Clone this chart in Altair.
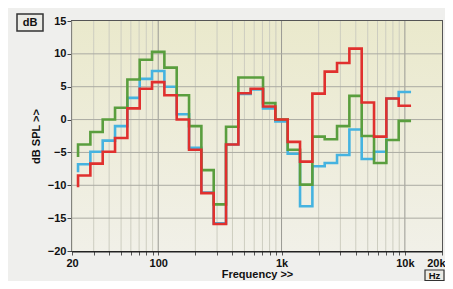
import math
import altair as alt
import pandas as pd

# 1/3-octave band centres (Hz)
bands = [25, 31.5, 40, 50, 63, 80, 100, 125, 160, 200, 250, 315, 400, 500,
         630, 800, 1000, 1250, 1600, 2000, 2500, 3150, 4000, 5000, 6300, 8000, 10000]

green = [-3.8, -1.9, 0.0, 1.8, 6.1, 9.1, 10.3, 7.9, 3.7, -1.0, -7.7, -12.9, -1.1, 6.4,
         6.4, 2.5, 0.0, -4.6, -9.9, -2.6, -3.0, -1.0, 3.6, -2.5, -6.6, -3.1, -0.2]
blue = [-6.8, -4.9, -3.2, -1.0, 3.3, 6.2, 7.4, 5.0, 0.8, -4.3, -11.1, -15.8, -3.8, 3.9,
        4.6, 1.7, -0.3, -5.2, -13.2, -7.1, -6.6, -5.4, -1.5, -6.0, -4.9, 3.2, 4.2]
red = [-8.5, -6.7, -4.9, -2.8, 1.7, 4.7, 5.7, 3.7, 0.0, -4.6, -11.2, -15.9, -3.8, 4.0,
       4.7, 2.0, 0.0, -3.4, -6.4, 3.95, 7.3, 8.6, 10.8, 2.6, -2.6, 3.2, 2.1]
start_values = {"blue": -8.0, "green": -5.7, "red": -10.3}

series_names = ["blue", "green", "red"]
series_colors = ["#45b3e0", "#5a9e3e", "#e0302e"]

x_grid = [20, 30, 40, 50, 60, 70, 80, 90, 200, 300, 400, 500, 600, 700, 800, 900,
          2000, 3000, 4000, 5000, 6000, 7000, 8000, 9000]
x_major = [100, 1000, 10000]
x_ticks = [20, 30, 40, 50, 60, 70, 80, 90, 100, 200, 300, 400, 500, 600, 700, 800, 900,
           1000, 2000, 3000, 4000, 5000, 6000, 7000, 8000, 9000, 10000, 20000]
y_ticks = [-20, -15, -10, -5, 0, 5, 10, 15]
y_grid = [-15, -10, -5, 0, 5, 10]

W, H = 370, 230

rows = []
for name, vals in zip(series_names, [blue, green, red]):
    edges = []
    for b in bands:
        n = round(10 * math.log10(b))
        edges.append(10 ** ((n - 0.5) / 10))
    last_hi = 10 ** ((round(10 * math.log10(bands[-1])) + 0.5) / 10)
    k = 0
    rows.append({"s": name, "f": edges[0], "db": start_values[name], "o": k}); k += 1
    for e, v in zip(edges, vals):
        rows.append({"s": name, "f": e, "db": v, "o": k}); k += 1
    rows.append({"s": name, "f": last_hi, "db": vals[-1], "o": k})
df = pd.DataFrame(rows)

xscale = alt.Scale(type="log", domain=[20, 20000], nice=False)
yscale = alt.Scale(domain=[-20, 15], nice=False)

label_expr = ("datum.value==20?'20':datum.value==100?'100':datum.value==1000?'1k':"
              "datum.value==10000?'10k':datum.value==20000?'20k':''")

ax_x = alt.Axis(values=x_ticks, labelExpr=label_expr, title="Frequency >>",
                grid=False, tickSize=4, tickColor="#555", domainColor="#222",
                domainWidth=2, labelFont="Liberation Sans", labelFontWeight="bold",
                labelFontSize=11, labelColor="#111", labelPadding=2,
                labelAlign={"condition": {"test": "datum.value == 20000", "value": "right"},
                            "value": "center"},
                labelOffset={"condition": {"test": "datum.value == 20000", "value": 3},
                             "value": 0},
                titleFont="Liberation Sans", titleFontWeight="bold",
                titleFontSize=11, titleColor="#111", titlePadding=0,
                labelFlush=False, labelOverlap=False)
ax_y = alt.Axis(values=y_ticks, title="dB SPL >>", grid=False, tickSize=5,
                tickColor="#444", domainColor="#222", domainWidth=2,
                labelFont="Liberation Sans", labelFontWeight="bold",
                labelFontSize=11, labelColor="#111", labelPadding=1,
                titleFont="Liberation Sans", titleFontWeight="bold",
                titleFontSize=11, titleColor="#111", titlePadding=6)

bg = alt.Chart(pd.DataFrame({"a": [0]})).mark_rect(
    color=alt.LinearGradient(gradient="linear", x1=0, x2=0, y1=0, y2=1,
                             stops=[alt.GradientStop(color="#eae9cc", offset=0),
                                    alt.GradientStop(color="#f1f0e8", offset=1)])
).encode(x=alt.value(0), x2=alt.value(W), y=alt.value(0), y2=alt.value(H))

vminor = alt.Chart(pd.DataFrame({"f": x_grid})).mark_rule(color="#cdcdc0", strokeWidth=1).encode(
    x=alt.X("f:Q", scale=xscale, axis=ax_x))
vmajor = alt.Chart(pd.DataFrame({"f": x_major})).mark_rule(color="#9a9a94", strokeWidth=1).encode(
    x=alt.X("f:Q", scale=xscale, axis=ax_x))
hgrid = alt.Chart(pd.DataFrame({"d": y_grid})).mark_rule(color="#aaaaa2", strokeWidth=1).encode(
    y=alt.Y("d:Q", scale=yscale, axis=ax_y))

lines = alt.Chart(df).mark_line(interpolate="step-after", strokeWidth=2.6).encode(
    x=alt.X("f:Q", scale=xscale, axis=ax_x),
    y=alt.Y("db:Q", scale=yscale, axis=ax_y),
    color=alt.Color("s:N", scale=alt.Scale(domain=series_names, range=series_colors), legend=None),
    order=alt.Order("o:Q"),
)

box_db = alt.Chart(pd.DataFrame({"a": [0]})).mark_rect(
    fill="#ebebe6", stroke="#333", strokeWidth=1.5).encode(
    x=alt.value(-55), x2=alt.value(-29), y=alt.value(-7), y2=alt.value(10))
txt_db = alt.Chart(pd.DataFrame({"t": ["dB"]})).mark_text(
    font="Liberation Sans", fontWeight="bold", fontSize=11, color="#111", baseline="middle").encode(
    x=alt.value(-42), y=alt.value(1.5), text="t:N")
box_hz = alt.Chart(pd.DataFrame({"a": [0]})).mark_rect(
    fill="#ebebe6", stroke="#333", strokeWidth=1.2).encode(
    x=alt.value(353), x2=alt.value(372), y=alt.value(249), y2=alt.value(259.5))
txt_hz = alt.Chart(pd.DataFrame({"t": ["Hz"]})).mark_text(
    font="Liberation Sans", fontWeight="bold", fontSize=9.5, color="#111", baseline="middle").encode(
    x=alt.value(362.5), y=alt.value(254.5), text="t:N")

chart = alt.layer(bg, vminor, vmajor, hgrid, lines, box_db, txt_db, box_hz, txt_hz).properties(
    width=W, height=H,
    autosize=alt.AutoSizeParams(type="none"),
    padding={"left": 64, "top": 13, "right": 3, "bottom": 30},
    background="#efefed",
).configure_view(stroke="#555", strokeWidth=2)

chart.save("out.html", embed_options={"renderer": "svg", "actions": False})
